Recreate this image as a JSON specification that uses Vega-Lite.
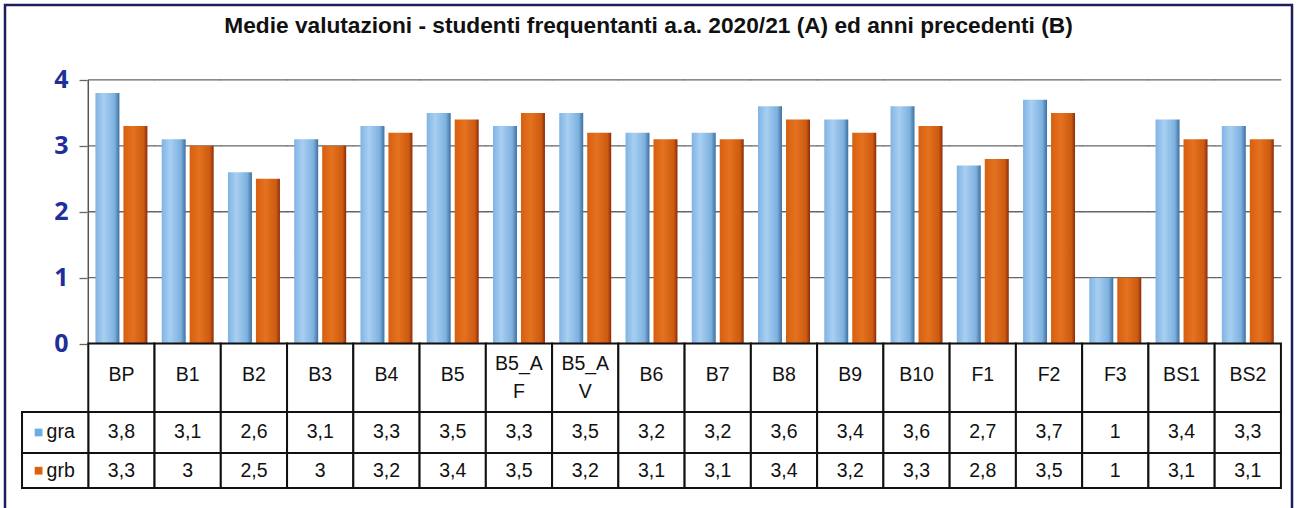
{
  "$schema": "https://vega.github.io/schema/vega-lite/v6.json",
  "width": 1287,
  "height": 510,
  "padding": {"left": 5, "top": 5, "right": 5, "bottom": 0},
  "background": "white",
  "title": {
    "text": "Medie valutazioni - studenti frequentanti  a.a. 2020/21 (A) ed anni precedenti (B)",
    "offset": -44,
    "baseline": "middle",
    "anchor": "middle",
    "font": "Liberation Sans",
    "fontSize": 22.7,
    "fontWeight": "bold",
    "color": "#111111"
  },
  "config": {
    "view": {"stroke": "#1b1f5e", "strokeWidth": 2.5}
  },
  "datasets": {
    "bars": [
      {"cat": "BP", "series": "gra", "value": 3.8}, {"cat": "BP", "series": "grb", "value": 3.3},
      {"cat": "B1", "series": "gra", "value": 3.1}, {"cat": "B1", "series": "grb", "value": 3},
      {"cat": "B2", "series": "gra", "value": 2.6}, {"cat": "B2", "series": "grb", "value": 2.5},
      {"cat": "B3", "series": "gra", "value": 3.1}, {"cat": "B3", "series": "grb", "value": 3},
      {"cat": "B4", "series": "gra", "value": 3.3}, {"cat": "B4", "series": "grb", "value": 3.2},
      {"cat": "B5", "series": "gra", "value": 3.5}, {"cat": "B5", "series": "grb", "value": 3.4},
      {"cat": "B5_AF", "series": "gra", "value": 3.3}, {"cat": "B5_AF", "series": "grb", "value": 3.5},
      {"cat": "B5_AV", "series": "gra", "value": 3.5}, {"cat": "B5_AV", "series": "grb", "value": 3.2},
      {"cat": "B6", "series": "gra", "value": 3.2}, {"cat": "B6", "series": "grb", "value": 3.1},
      {"cat": "B7", "series": "gra", "value": 3.2}, {"cat": "B7", "series": "grb", "value": 3.1},
      {"cat": "B8", "series": "gra", "value": 3.6}, {"cat": "B8", "series": "grb", "value": 3.4},
      {"cat": "B9", "series": "gra", "value": 3.4}, {"cat": "B9", "series": "grb", "value": 3.2},
      {"cat": "B10", "series": "gra", "value": 3.6}, {"cat": "B10", "series": "grb", "value": 3.3},
      {"cat": "F1", "series": "gra", "value": 2.7}, {"cat": "F1", "series": "grb", "value": 2.8},
      {"cat": "F2", "series": "gra", "value": 3.7}, {"cat": "F2", "series": "grb", "value": 3.5},
      {"cat": "F3", "series": "gra", "value": 1}, {"cat": "F3", "series": "grb", "value": 1},
      {"cat": "BS1", "series": "gra", "value": 3.4}, {"cat": "BS1", "series": "grb", "value": 3.1},
      {"cat": "BS2", "series": "gra", "value": 3.3}, {"cat": "BS2", "series": "grb", "value": 3.1}
    ]
  },
  "layer": [
    {
      "data": {"name": "bars"},
      "transform": [{"filter": "datum.series == 'gra'"}],
      "mark": {"type": "tick", "orient": "horizontal", "size": 67, "thickness": 1.3, "color": "#666666", "opacity": 1},
      "encoding": {
        "x": {"field": "cat", "type": "nominal",
              "scale": {"domain": ["legenda", "BP", "B1", "B2", "B3", "B4", "B5", "B5_AF", "B5_AV", "B6", "B7", "B8", "B9", "B10", "F1", "F2", "F3", "BS1", "BS2"],
                        "paddingInner": 0, "paddingOuter": 0.212, "align": 0.606},
              "axis": null},
        "y": {"datum": 4, "type": "quantitative",
              "scale": {"type": "linear", "domain": [-2.602, 5.137], "nice": false, "zero": false},
              "axis": {"values": [0, 1, 2, 3, 4], "format": "d", "offset": -82, "domain": false, "grid": false,
                       "ticks": true, "tickSize": 8, "tickColor": "#666666", "tickWidth": 1.3,
                       "labelFont": "Open Sans", "labelFontWeight": "bold", "labelFontSize": 25,
                       "labelColor": "#1f2f9a", "labelPadding": 11, "title": null}}
      }
    },
    {
      "data": {"name": "bars"},
      "transform": [{"filter": "datum.series == 'gra'"}],
      "mark": {"type": "tick", "orient": "horizontal", "size": 67, "thickness": 1.3, "color": "#666666", "opacity": 1},
      "encoding": {
        "x": {"field": "cat", "type": "nominal", "axis": null},
        "y": {"datum": 3, "type": "quantitative"}
      }
    },
    {
      "data": {"name": "bars"},
      "transform": [{"filter": "datum.series == 'gra'"}],
      "mark": {"type": "tick", "orient": "horizontal", "size": 67, "thickness": 1.3, "color": "#666666", "opacity": 1},
      "encoding": {
        "x": {"field": "cat", "type": "nominal", "axis": null},
        "y": {"datum": 2, "type": "quantitative"}
      }
    },
    {
      "data": {"name": "bars"},
      "transform": [{"filter": "datum.series == 'gra'"}],
      "mark": {"type": "tick", "orient": "horizontal", "size": 67, "thickness": 1.3, "color": "#666666", "opacity": 1},
      "encoding": {
        "x": {"field": "cat", "type": "nominal", "axis": null},
        "y": {"datum": 1, "type": "quantitative"}
      }
    },
    {
      "data": {"name": "bars"},
      "transform": [{"filter": "datum.series == 'gra' && datum.cat == 'BP'"}],
      "mark": {"type": "rule", "color": "#555555", "strokeWidth": 1.5},
      "encoding": {
        "x": {"datum": "BP", "type": "nominal", "bandPosition": 0, "axis": null},
        "y": {"datum": 0, "type": "quantitative"},
        "y2": {"datum": 4}
      }
    },
    {
      "data": {"name": "bars"},
      "transform": [{"filter": "datum.series == 'gra'"}],
      "mark": {"type": "bar",
               "fill": {"gradient": "linear", "x1": 0, "x2": 1, "y1": 0, "y2": 0,
                        "stops": [{"offset": 0, "color": "#80b4e4"}, {"offset": 0.35, "color": "#a8cff1"},
                                  {"offset": 0.8, "color": "#7db1e0"}, {"offset": 1, "color": "#3f70a0"}]}},
      "encoding": {
        "x": {"field": "cat", "type": "nominal", "axis": null},
        "xOffset": {"field": "series", "type": "nominal",
                    "scale": {"domain": ["gra", "grb"], "paddingInner": 0.143, "paddingOuter": 0.255}},
        "y": {"field": "value", "type": "quantitative"},
        "y2": {"datum": 0}
      }
    },
    {
      "data": {"name": "bars"},
      "transform": [{"filter": "datum.series == 'grb'"}],
      "mark": {"type": "bar",
               "fill": {"gradient": "linear", "x1": 0, "x2": 1, "y1": 0, "y2": 0,
                        "stops": [{"offset": 0, "color": "#d65f10"}, {"offset": 0.4, "color": "#e5721f"},
                                  {"offset": 0.85, "color": "#cc5a10"}, {"offset": 1, "color": "#8a2a0c"}]}},
      "encoding": {
        "x": {"field": "cat", "type": "nominal", "axis": null},
        "xOffset": {"field": "series", "type": "nominal"},
        "y": {"field": "value", "type": "quantitative"},
        "y2": {"datum": 0}
      }
    },
    {
      "data": {"name": "bars"},
      "transform": [{"filter": "datum.series == 'gra'"}],
      "mark": {"type": "rect", "fill": "white", "stroke": "#111111", "strokeWidth": 2},
      "encoding": {
        "x": {"field": "cat", "type": "nominal", "axis": null},
        "y": {"datum": 0, "type": "quantitative"},
        "y2": {"datum": -1.039}
      }
    },
    {
      "data": {"name": "bars"},
      "transform": [{"filter": "datum.series == 'gra' && length(datum.cat) <= 4"}],
      "mark": {"type": "text", "font": "Liberation Sans", "fontSize": 19.5, "color": "#111111",
               "baseline": "middle", "align": "center"},
      "encoding": {
        "x": {"field": "cat", "type": "nominal", "axis": null},
        "y": {"datum": -0.478, "type": "quantitative"},
        "text": {"field": "cat", "type": "nominal"}
      }
    },
    {
      "data": {"name": "bars"},
      "transform": [
        {"filter": "datum.series == 'gra' && length(datum.cat) > 4"},
        {"calculate": "[substring(datum.cat, 0, 4), substring(datum.cat, 4)]", "as": "label"}
      ],
      "mark": {"type": "text", "font": "Liberation Sans", "fontSize": 19.5, "color": "#111111",
               "baseline": "middle", "align": "center", "lineHeight": 28},
      "encoding": {
        "x": {"field": "cat", "type": "nominal", "axis": null},
        "y": {"datum": -0.311, "type": "quantitative"},
        "text": {"field": "label", "type": "nominal"}
      }
    },
    {
      "data": {"name": "bars"},
      "transform": [{"filter": "datum.series == 'gra'"}],
      "mark": {"type": "rect", "fill": "white", "stroke": "#111111", "strokeWidth": 2},
      "encoding": {
        "x": {"field": "cat", "type": "nominal", "axis": null},
        "y": {"datum": -1.039, "type": "quantitative"},
        "y2": {"datum": -1.662}
      }
    },
    {
      "data": {"name": "bars"},
      "transform": [{"filter": "datum.series == 'grb'"}],
      "mark": {"type": "rect", "fill": "white", "stroke": "#111111", "strokeWidth": 2},
      "encoding": {
        "x": {"field": "cat", "type": "nominal", "axis": null},
        "y": {"datum": -1.662, "type": "quantitative"},
        "y2": {"datum": -2.193}
      }
    },
    {
      "data": {"name": "bars"},
      "transform": [{"filter": "datum.series == 'gra' && datum.cat == 'BP'"}],
      "mark": {"type": "rect", "fill": "white", "stroke": "#111111", "strokeWidth": 2},
      "encoding": {
        "x": {"datum": "legenda", "type": "nominal", "axis": null},
        "y": {"datum": -1.039, "type": "quantitative"},
        "y2": {"datum": -1.662}
      }
    },
    {
      "data": {"name": "bars"},
      "transform": [{"filter": "datum.series == 'grb' && datum.cat == 'BP'"}],
      "mark": {"type": "rect", "fill": "white", "stroke": "#111111", "strokeWidth": 2},
      "encoding": {
        "x": {"datum": "legenda", "type": "nominal", "axis": null},
        "y": {"datum": -1.662, "type": "quantitative"},
        "y2": {"datum": -2.193}
      }
    },
    {
      "data": {"name": "bars"},
      "transform": [
        {"filter": "datum.series == 'gra'"},
        {"calculate": "replace(format(datum.value, '~g'), '.', ',')", "as": "txt"}
      ],
      "mark": {"type": "text", "font": "Liberation Sans", "fontSize": 19.5, "color": "#111111",
               "baseline": "middle", "align": "center"},
      "encoding": {
        "x": {"field": "cat", "type": "nominal", "axis": null},
        "y": {"datum": -1.35, "type": "quantitative"},
        "text": {"field": "txt", "type": "nominal"}
      }
    },
    {
      "data": {"name": "bars"},
      "transform": [
        {"filter": "datum.series == 'grb'"},
        {"calculate": "replace(format(datum.value, '~g'), '.', ',')", "as": "txt"}
      ],
      "mark": {"type": "text", "font": "Liberation Sans", "fontSize": 19.5, "color": "#111111",
               "baseline": "middle", "align": "center"},
      "encoding": {
        "x": {"field": "cat", "type": "nominal", "axis": null},
        "y": {"datum": -1.93, "type": "quantitative"},
        "text": {"field": "txt", "type": "nominal"}
      }
    },
    {
      "data": {"name": "bars"},
      "transform": [{"filter": "datum.series == 'gra' && datum.cat == 'BP'"}],
      "mark": {"type": "point", "shape": "square", "filled": true, "size": 60, "color": "#6aaee6", "opacity": 1},
      "encoding": {
        "x": {"datum": "legenda", "type": "nominal", "bandPosition": 0.25, "axis": null},
        "y": {"datum": -1.35, "type": "quantitative"}
      }
    },
    {
      "data": {"name": "bars"},
      "transform": [{"filter": "datum.series == 'grb' && datum.cat == 'BP'"}],
      "mark": {"type": "point", "shape": "square", "filled": true, "size": 60, "color": "#dd5f12", "opacity": 1},
      "encoding": {
        "x": {"datum": "legenda", "type": "nominal", "bandPosition": 0.25, "axis": null},
        "y": {"datum": -1.93, "type": "quantitative"}
      }
    },
    {
      "data": {"name": "bars"},
      "transform": [{"filter": "datum.series == 'gra' && datum.cat == 'BP'"}],
      "mark": {"type": "text", "font": "Liberation Sans", "fontSize": 19.5, "color": "#111111",
               "baseline": "middle", "align": "left"},
      "encoding": {
        "x": {"datum": "legenda", "type": "nominal", "bandPosition": 0.37, "axis": null},
        "y": {"datum": -1.35, "type": "quantitative"},
        "text": {"field": "series", "type": "nominal"}
      }
    },
    {
      "data": {"name": "bars"},
      "transform": [{"filter": "datum.series == 'grb' && datum.cat == 'BP'"}],
      "mark": {"type": "text", "font": "Liberation Sans", "fontSize": 19.5, "color": "#111111",
               "baseline": "middle", "align": "left"},
      "encoding": {
        "x": {"datum": "legenda", "type": "nominal", "bandPosition": 0.37, "axis": null},
        "y": {"datum": -1.93, "type": "quantitative"},
        "text": {"field": "series", "type": "nominal"}
      }
    }
  ]
}
